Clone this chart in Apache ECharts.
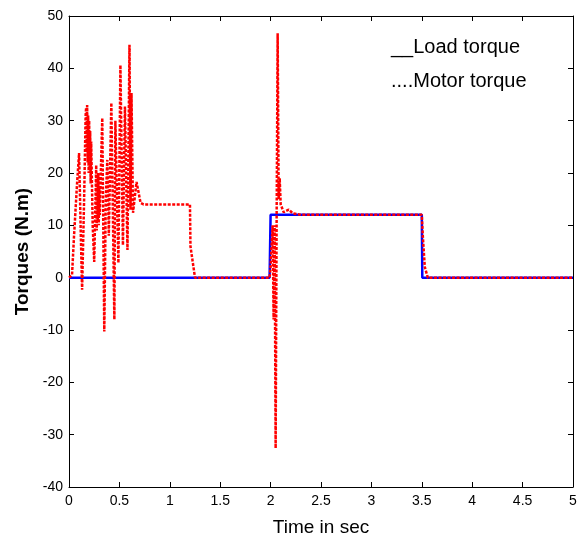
<!DOCTYPE html>
<html>
<head>
<meta charset="utf-8">
<script src="https://cdn.jsdelivr.net/npm/echarts@6/dist/echarts.min.js"></script>
<style>html,body{margin:0;padding:0;background:#fff;}#c{width:583px;height:542px;}</style>
</head>
<body>
<div id="c"></div>
<script>
// ---- data ----
const loadTime  = [0, 1.99, 2.0, 3.5, 3.505, 5];
const loadValue = [0, 0, 12, 12, 0, 0];

const motorTime = [0, 0.03, 0.05, 0.08, 0.10, 0.115, 0.13, 0.15, 0.165, 0.17, 0.175, 0.18, 0.185, 0.19, 0.195, 0.20,
  0.205, 0.21, 0.215, 0.22, 0.235, 0.25, 0.27, 0.275, 0.28, 0.285, 0.29, 0.295, 0.30, 0.305, 0.31, 0.33, 0.35,
  0.365, 0.38, 0.395, 0.42, 0.45, 0.46, 0.49, 0.51, 0.535, 0.555, 0.58, 0.60, 0.61, 0.62, 0.635, 0.67, 0.71,
  0.74, 0.9, 1.1, 1.2, 1.205, 1.22, 1.25, 1.99, 2.0, 2.02, 2.03, 2.04, 2.05, 2.06, 2.07, 2.08, 2.09, 2.10,
  2.13, 2.18, 2.22, 2.3, 3.5, 3.51, 3.53, 3.56, 5];
const motorValue = [0, 0.5, 8, 18, 23.8, 10, -2.3, 15, 31, 32.5, 24, 33, 22, 31, 20, 30,
  21, 28, 18, 26, 10, 3, 21.5, 9, 19, 11, 20, 10, 17, 12, 16, 30.5, -10.3,
  15, 22.5, 8, 33.4, -8, 30, 2.8, 40.6, 6.2, 32.7, 5.3, 44.5, 13, 35.3, 12.4, 18.3, 14.3,
  14, 14, 14, 14, 6, 4, 0, 0, 2, 10, -8, 10, -32.6, 12, 46.7, 15, 19, 14,
  12.5, 13, 12.3, 12, 12, 8, 2, 0, 0];

const xTicks = [0, 0.5, 1, 1.5, 2, 2.5, 3, 3.5, 4, 4.5, 5];
const yTicks = [-40, -30, -20, -10, 0, 10, 20, 30, 40, 50];

// ---- chart ----
const loadData = loadTime.map((t, i) => [t, loadValue[i]]);
const motorData = motorTime.map((t, i) => [t, motorValue[i]]);
const font = 'Liberation Sans, Arial, sans-serif';

const chart = echarts.init(document.getElementById('c'), null, {renderer: 'canvas'});
const axisLine = {show: true, onZero: false, lineStyle: {color: '#000', width: 1}};
const tick = {inside: true, length: 5, lineStyle: {color: '#000'}};
chart.setOption({
  animation: false,
  backgroundColor: '#fff',
  grid: {left: 69, right: 10, top: 16, bottom: 55, containLabel: false},
  xAxis: [{
    type: 'value', min: xTicks[0], max: xTicks[xTicks.length - 1], interval: 0.5,
    axisLine: axisLine, axisTick: tick, splitLine: {show: false},
    axisLabel: {color: '#000', fontSize: 14, fontFamily: font, margin: 7},
    name: 'Time in sec', nameLocation: 'middle', nameGap: 31,
    nameTextStyle: {color: '#000', fontSize: 19, fontFamily: font}
  }, {
    type: 'value', position: 'top', min: 0, max: 5, interval: 0.5,
    axisLine: axisLine, axisTick: tick, axisLabel: {show: false}, splitLine: {show: false}
  }],
  yAxis: [{
    type: 'value', min: yTicks[0], max: yTicks[yTicks.length - 1], interval: 10,
    axisLine: axisLine, axisTick: tick, splitLine: {show: false},
    axisLabel: {color: '#000', fontSize: 14, fontFamily: font, margin: 6},
    name: 'Torques (N.m)', nameLocation: 'middle', nameGap: 24, nameRotate: 90,
    nameTextStyle: {color: '#000', fontSize: 19, fontFamily: font, fontWeight: 'bold'}
  }, {
    type: 'value', position: 'right', min: -40, max: 50, interval: 10,
    axisLine: axisLine, axisTick: tick, axisLabel: {show: false}, splitLine: {show: false}
  }],
  series: [{
    name: 'Load torque', type: 'line', data: loadData, showSymbol: false,
    lineStyle: {color: '#0000ff', width: 2.5}, z: 2
  }, {
    name: 'Motor torque', type: 'line', data: motorData, showSymbol: false,
    lineStyle: {color: '#ff0000', width: 2.5, type: [3, 1.5]}, z: 3
  }],
  graphic: [{
    type: 'text', left: 391, top: 37,
    style: {text: '__Load torque', fontSize: 20, fontFamily: font, fill: '#000'}
  }, {
    type: 'text', left: 391, top: 71,
    style: {text: '....Motor torque', fontSize: 20, fontFamily: font, fill: '#000'}
  }]
});
</script>
</body>
</html>
